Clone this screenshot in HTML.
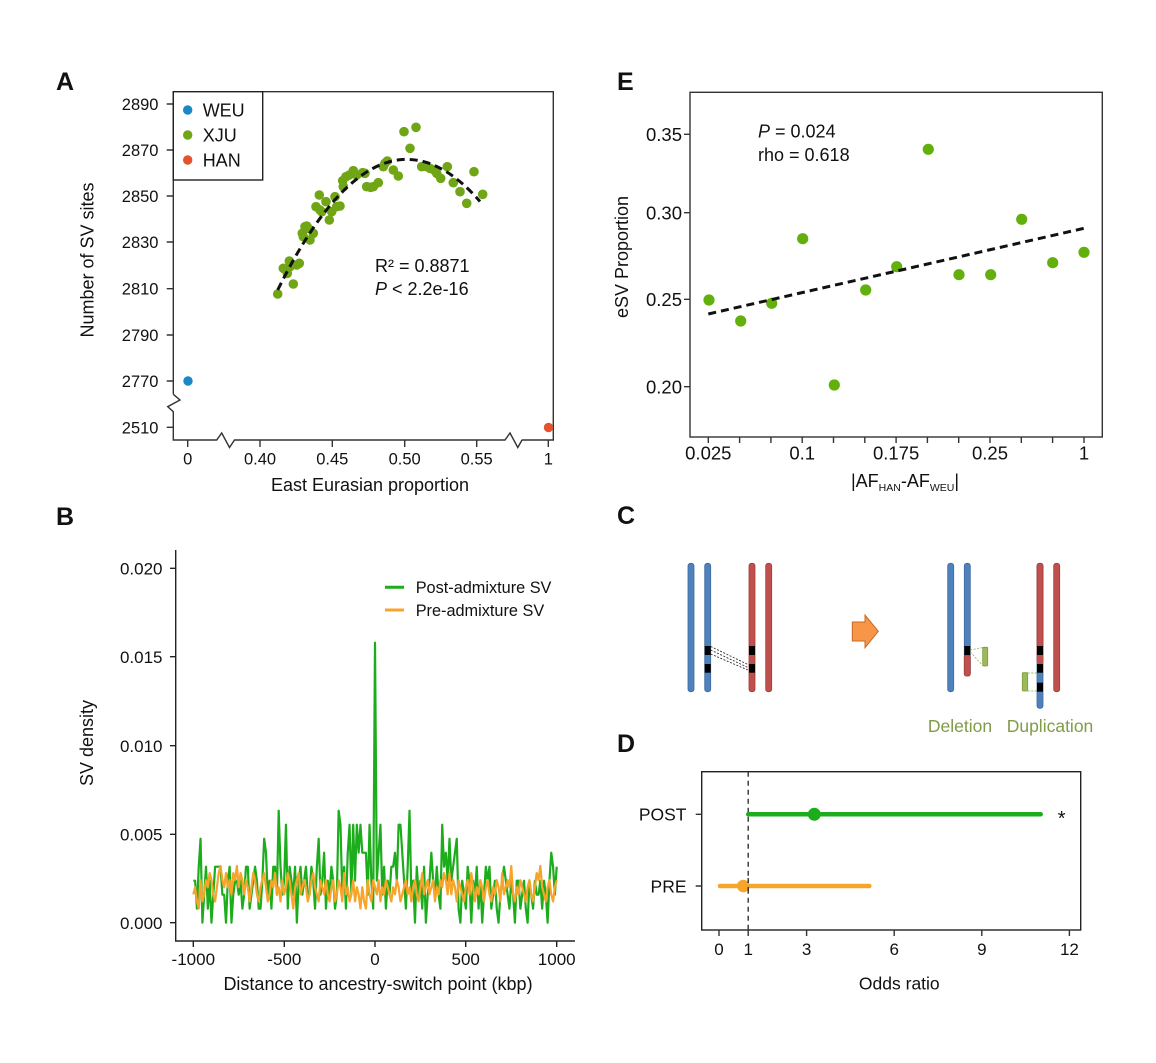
<!DOCTYPE html>
<html><head><meta charset="utf-8">
<style>
html,body{margin:0;padding:0;background:#fff;}
svg{display:block;}
text{font-family:"Liberation Sans",Arial,sans-serif;fill:#111;}
.lbl{font-weight:bold;font-size:25px;}
</style></head>
<body>
<svg width="1156" height="1063" viewBox="0 0 1156 1063" xmlns="http://www.w3.org/2000/svg">
<rect width="1156" height="1063" fill="#fff"/>

<!-- ================= PANEL A ================= -->
<text class="lbl" x="56" y="90">A</text>
<g stroke="#333" stroke-width="1.4" fill="none">
  <polyline points="173.3,394.3 173.3,91.7 553.3,91.7 553.3,440 521.7,440"/>
  <polyline points="173.3,394.3 180,400 167.7,406.7 173.3,411.7 173.3,440 216.7,440 221.7,433 229.5,447.5 234.5,440 505,440 510,433 517.8,447.5 522,440"/>
  <path d="M166.7,104H173.3M166.7,150H173.3M166.7,196H173.3M166.7,242H173.3M166.7,288.7H173.3M166.7,335H173.3M166.7,381H173.3M166.7,427.3H173.3"/>
  <path d="M187.7,440V447M260,440V447M332.3,440V447M404.7,440V447M476.7,440V447M548.3,440V447"/>
</g>
<g font-size="16.5" text-anchor="end">
  <text x="158.5" y="110">2890</text>
  <text x="158.5" y="156">2870</text>
  <text x="158.5" y="202">2850</text>
  <text x="158.5" y="248">2830</text>
  <text x="158.5" y="294.7">2810</text>
  <text x="158.5" y="341">2790</text>
  <text x="158.5" y="387">2770</text>
  <text x="158.5" y="433.3">2510</text>
</g>
<g font-size="16.5" text-anchor="middle">
  <text x="187.7" y="464.5">0</text>
  <text x="260" y="464.5">0.40</text>
  <text x="332.3" y="464.5">0.45</text>
  <text x="404.7" y="464.5">0.50</text>
  <text x="476.7" y="464.5">0.55</text>
  <text x="548.3" y="464.5">1</text>
</g>
<text x="370" y="491" font-size="18" text-anchor="middle">East Eurasian proportion</text>
<text transform="translate(93.5,260) rotate(-90)" font-size="18" text-anchor="middle">Number of SV sites</text>
<rect x="173.3" y="91.7" width="89.4" height="88.3" fill="#fff" stroke="#222" stroke-width="1.4"/>
<circle cx="187.7" cy="110" r="4.7" fill="#1b87c6"/>
<circle cx="187.7" cy="135" r="4.7" fill="#70a516"/>
<circle cx="187.7" cy="160" r="4.7" fill="#e4532d"/>
<g font-size="18">
  <text x="202.7" y="116.5">WEU</text>
  <text x="202.7" y="141.5">XJU</text>
  <text x="202.7" y="166.5">HAN</text>
</g>
<circle cx="188" cy="381" r="4.7" fill="#1b87c6"/>
<circle cx="548.5" cy="427.5" r="4.7" fill="#e4532d"/>
<g fill="#70a516">
<circle cx="277.7" cy="294" r="4.8"/><circle cx="283.3" cy="268.3" r="4.8"/><circle cx="287.3" cy="273.3" r="4.8"/>
<circle cx="289.3" cy="261" r="4.8"/><circle cx="293.3" cy="284" r="4.8"/><circle cx="296.7" cy="265" r="4.8"/>
<circle cx="299.3" cy="263.3" r="4.8"/><circle cx="290" cy="266.7" r="4.8"/><circle cx="302.3" cy="233.3" r="4.8"/>
<circle cx="305" cy="226.7" r="4.8"/><circle cx="306.7" cy="226" r="4.8"/><circle cx="308.3" cy="228.3" r="4.8"/>
<circle cx="310" cy="240" r="4.8"/><circle cx="313.3" cy="233.3" r="4.8"/><circle cx="303.3" cy="236.7" r="4.8"/>
<circle cx="316" cy="206.7" r="4.8"/><circle cx="319.3" cy="195" r="4.8"/><circle cx="321.7" cy="211.7" r="4.8"/>
<circle cx="320" cy="210" r="4.8"/><circle cx="326" cy="201.7" r="4.8"/><circle cx="329.3" cy="220" r="4.8"/>
<circle cx="331.7" cy="211.7" r="4.8"/><circle cx="335" cy="196.7" r="4.8"/><circle cx="336.7" cy="206.7" r="4.8"/>
<circle cx="340" cy="206" r="4.8"/><circle cx="342.7" cy="180.7" r="4.8"/><circle cx="343.3" cy="186.7" r="4.8"/>
<circle cx="346" cy="176.7" r="4.8"/><circle cx="349.3" cy="175" r="4.8"/><circle cx="353.3" cy="170.7" r="4.8"/>
<circle cx="356.7" cy="175" r="4.8"/><circle cx="362.7" cy="172.7" r="4.8"/><circle cx="365" cy="173.3" r="4.8"/>
<circle cx="366.7" cy="186.7" r="4.8"/><circle cx="370.7" cy="187.3" r="4.8"/><circle cx="373.3" cy="186.7" r="4.8"/>
<circle cx="378.3" cy="182.7" r="4.8"/><circle cx="383.3" cy="166.7" r="4.8"/><circle cx="385" cy="163.3" r="4.8"/>
<circle cx="387.3" cy="161" r="4.8"/><circle cx="393.3" cy="170" r="4.8"/><circle cx="398.3" cy="176" r="4.8"/>
<circle cx="404" cy="131.7" r="4.8"/><circle cx="410" cy="148.3" r="4.8"/><circle cx="416" cy="127.3" r="4.8"/>
<circle cx="421.7" cy="166.7" r="4.8"/><circle cx="426.7" cy="166.7" r="4.8"/><circle cx="430" cy="168.3" r="4.8"/>
<circle cx="434" cy="170" r="4.8"/><circle cx="436.7" cy="173.3" r="4.8"/><circle cx="440.7" cy="178.3" r="4.8"/>
<circle cx="447.3" cy="166.7" r="4.8"/><circle cx="453.3" cy="182.7" r="4.8"/><circle cx="460" cy="191.7" r="4.8"/>
<circle cx="466.7" cy="203.3" r="4.8"/><circle cx="474" cy="171.7" r="4.8"/><circle cx="482.7" cy="194.3" r="4.8"/>
</g>
<path d="M277.7,290 Q378.85,85.2 480,201.5" fill="none" stroke="#111" stroke-width="3" stroke-dasharray="8,5"/>
<text x="375" y="272" font-size="18">R² = 0.8871</text>
<text x="375" y="295" font-size="18"><tspan font-style="italic">P</tspan> &lt; 2.2e-16</text>

<!-- ================= PANEL E ================= -->
<text class="lbl" x="617" y="90">E</text>
<rect x="690" y="92.3" width="412.3" height="344.7" fill="none" stroke="#333" stroke-width="1.4"/>
<g stroke="#333" stroke-width="1.4">
  <path d="M684,134.3H690M684,212.7H690M684,299.3H690M684,386.7H690"/>
  <path d="M708.3,437V443M739.6,437V443M770.9,437V443M802.2,437V443M833.5,437V443M864.8,437V443M896.1,437V443M927.4,437V443M958.7,437V443M990,437V443M1021.3,437V443M1052.6,437V443M1084,437V443"/>
</g>
<g font-size="18.5" text-anchor="end">
  <text x="682" y="141">0.35</text>
  <text x="682" y="219.3">0.30</text>
  <text x="682" y="306">0.25</text>
  <text x="682" y="393.3">0.20</text>
</g>
<g font-size="18.5" text-anchor="middle">
  <text x="708.3" y="459.5">0.025</text>
  <text x="802.2" y="459.5">0.1</text>
  <text x="896.1" y="459.5">0.175</text>
  <text x="990" y="459.5">0.25</text>
  <text x="1084" y="459.5">1</text>
</g>
<text x="905" y="487" font-size="18" text-anchor="middle">|AF<tspan font-size="10.5" dy="4">HAN</tspan><tspan dy="-4">-AF</tspan><tspan font-size="10.5" dy="4">WEU</tspan><tspan dy="-4">|</tspan></text>
<text transform="translate(628,257) rotate(-90)" font-size="18" text-anchor="middle">eSV Proportion</text>
<g fill="#62b00c">
<circle cx="709" cy="300" r="5.6"/><circle cx="740.7" cy="321" r="5.6"/><circle cx="771.7" cy="303.3" r="5.6"/>
<circle cx="802.7" cy="238.7" r="5.6"/><circle cx="834.3" cy="385" r="5.6"/><circle cx="865.7" cy="290" r="5.6"/>
<circle cx="896.7" cy="266.7" r="5.6"/><circle cx="928.3" cy="149.3" r="5.6"/><circle cx="959" cy="274.7" r="5.6"/>
<circle cx="990.7" cy="274.7" r="5.6"/><circle cx="1021.7" cy="219.3" r="5.6"/><circle cx="1052.7" cy="262.7" r="5.6"/>
<circle cx="1084" cy="252.3" r="5.6"/>
</g>
<line x1="708.3" y1="314" x2="1084" y2="228.3" stroke="#111" stroke-width="3" stroke-dasharray="8,5"/>
<text x="758" y="137.3" font-size="18"><tspan font-style="italic">P</tspan> = 0.024</text>
<text x="758" y="161" font-size="18">rho = 0.618</text>

<!-- ================= PANEL B ================= -->
<text class="lbl" x="56" y="525">B</text>
<g stroke="#222" stroke-width="1.4" fill="none">
  <polyline points="175.7,550 175.7,941 575,941"/>
  <path d="M170,568.3H175.7M170,656.7H175.7M170,745.7H175.7M170,834.3H175.7M170,922.7H175.7"/>
  <path d="M193.3,941V947M284.3,941V947M375,941V947M465.7,941V947M556.7,941V947"/>
</g>
<g font-size="17" text-anchor="end">
  <text x="162.5" y="574.5">0.020</text>
  <text x="162.5" y="662.9">0.015</text>
  <text x="162.5" y="751.9">0.010</text>
  <text x="162.5" y="840.5">0.005</text>
  <text x="162.5" y="928.9">0.000</text>
</g>
<g font-size="17" text-anchor="middle">
  <text x="193.3" y="965">-1000</text>
  <text x="284.3" y="965">-500</text>
  <text x="375" y="965">0</text>
  <text x="465.7" y="965">500</text>
  <text x="556.7" y="965">1000</text>
</g>
<text x="378" y="990" font-size="18" text-anchor="middle">Distance to ancestry-switch point (kbp)</text>
<text transform="translate(93,743) rotate(-90)" font-size="18" text-anchor="middle">SV density</text>
<polyline transform="translate(193.3,922.7) scale(1.817,-14)" fill="none" stroke="#1cac1c" stroke-width="2.2" vector-effect="non-scaling-stroke" stroke-linejoin="round"
points="0,3 1,3 2,1 3,4 4,6 5,0 6,2 7,4 8,1 9,3 10,0 11,2 12,4 13,4 14,4 15,4 16,2 17,2 18,0 19,3 20,4 21,0 22,2 23,3 24,3 25,2 26,3 27,1 28,2 29,4 30,4 31,1 32,2 33,3 34,4 35,3 36,1 37,1 38,3 39,6 40,5 41,2 42,3 43,1 44,4 45,4 46,2 47,8 48,4 49,2 50,3 51,7 52,1 53,4 54,3 55,2 56,4 57,0 58,3 59,4 60,2 61,3 62,4 63,2 64,2 65,4 66,3 67,1 68,4 69,6 70,2 71,3 72,5 73,1 74,3 75,2 76,4 77,3 78,1 79,2 80,8 81,7 82,2 83,4 84,1 85,5 86,7 87,2 88,7 89,3 90,7 91,5 92,7 93,5 94,5 95,5 96,2 97,7 98,3 99,1 100,20 101,3 102,5 103,7 104,2 105,4 106,1 107,3 108,2 109,4 110,4 111,5 112,3 113,7 114,7 115,5 116,3 117,1 118,4 119,8 120,2 121,3 122,0 123,4 124,2 125,3 126,1 127,4 128,0 129,2 130,3 131,5 132,3 133,2 134,4 135,2 136,1 137,7 138,4 139,5 140,3 141,6 142,3 143,4 144,5 145,6 146,1 147,0 148,3 149,2 150,1 151,4 152,3 153,0 154,3 155,2 156,4 157,1 158,3 159,0 160,2 161,4 162,3 163,4 164,1 165,2 166,3 167,1 168,0 169,2 170,3 171,4 172,3 173,2 174,1 175,3 176,2 177,0 178,3 179,3 180,1 181,2 182,3 183,1 184,0 185,3 186,2 187,1 188,3 189,2 190,2 191,3 192,1 193,3 194,2 195,0 196,3 197,5 198,4 199,2 200,4"/>
<polyline transform="translate(193.3,922.7) scale(1.817,-7.09)" fill="none" stroke="#f7a42a" stroke-width="2.2" vector-effect="non-scaling-stroke" stroke-linejoin="round"
points="0,4 1,5 2,3 3,2 4,6 5,3 6,4 7,6 8,5 9,7 10,6 11,4 12,3 13,5 14,7 15,8 16,6 17,5 18,7 19,5 20,6 21,4 22,7 23,6 24,8 25,5 26,7 27,6 28,4 29,6 30,5 31,3 32,5 33,7 34,6 35,4 36,3 37,5 38,6 39,7 40,5 41,3 42,4 43,6 44,5 45,7 46,4 47,5 48,3 49,6 50,4 51,5 52,7 53,6 54,4 55,2 56,5 57,6 58,7 59,4 60,5 61,6 62,5 63,3 64,4 65,6 66,7 67,5 68,4 69,3 70,6 71,5 72,4 73,6 74,4 75,3 76,5 77,6 78,3 79,4 80,6 81,5 82,3 83,7 84,4 85,5 86,3 87,4 88,6 89,3 90,5 91,4 92,2 93,5 94,3 95,2 96,6 97,4 98,3 99,6 100,5 101,4 102,6 103,3 104,5 105,4 106,6 107,5 108,4 109,3 110,5 111,4 112,6 113,5 114,3 115,4 116,5 117,6 118,4 119,5 120,3 121,5 122,6 123,4 124,3 125,5 126,7 127,4 128,5 129,6 130,4 131,5 132,6 133,3 134,5 135,4 136,6 137,5 138,7 139,6 140,4 141,7 142,4 143,6 144,5 145,3 146,6 147,5 148,4 149,3 150,5 151,6 152,4 153,7 154,5 155,3 156,5 157,4 158,6 159,5 160,3 161,5 162,6 163,4 164,3 165,5 166,4 167,6 168,5 169,3 170,7 171,4 172,5 173,6 174,5 175,8 176,4 177,3 178,5 179,4 180,6 181,5 182,4 183,3 184,5 185,6 186,4 187,3 188,5 189,7 190,6 191,8 192,5 193,4 194,3 195,5 196,6 197,4 198,3 199,5 200,6"/>
<line x1="385" y1="587.3" x2="404" y2="587.3" stroke="#1cac1c" stroke-width="3"/>
<line x1="385" y1="610" x2="404" y2="610" stroke="#f7a42a" stroke-width="3"/>
<text x="415.7" y="593" font-size="16.3">Post-admixture SV</text>
<text x="415.7" y="616" font-size="16.3">Pre-admixture SV</text>

<!-- ================= PANEL C ================= -->
<text class="lbl" x="617" y="524">C</text>
<g stroke-width="0.8">
  <rect x="688" y="563.3" width="6" height="128.4" rx="2.5" fill="#4f81bd" stroke="#3d6aa0"/>
  <rect x="704.7" y="563.3" width="6" height="128.4" rx="2.5" fill="#4f81bd" stroke="#3d6aa0"/>
  <rect x="749" y="563.3" width="6" height="128.4" rx="2.5" fill="#c0504d" stroke="#a03c3a"/>
  <rect x="765.7" y="563.3" width="6" height="128.4" rx="2.5" fill="#c0504d" stroke="#a03c3a"/>
</g>
<g fill="#000">
  <rect x="704.7" y="646" width="6" height="9"/>
  <rect x="704.7" y="664" width="6" height="8.7"/>
  <rect x="749" y="646" width="6" height="9"/>
  <rect x="749" y="664" width="6" height="8.7"/>
</g>
<g stroke="#333" stroke-width="0.9" stroke-dasharray="2,1.5" fill="none">
  <line x1="710.7" y1="646.5" x2="749" y2="665"/>
  <line x1="710.7" y1="654" x2="749" y2="670.5"/>
  <line x1="710.7" y1="650" x2="749" y2="668"/>
</g>
<polygon points="852.3,622 865,622 865,615 878.3,631.3 865,647.7 865,641 852.3,641" fill="#f79646" stroke="#c46a28" stroke-width="1"/>
<g stroke-width="0.8">
  <rect x="947.7" y="563.3" width="6" height="128.4" rx="2.5" fill="#4f81bd" stroke="#3d6aa0"/>
  <rect x="964.3" y="563.3" width="6" height="112.7" rx="2.5" fill="#4f81bd" stroke="#3d6aa0"/>
  <rect x="964.3" y="655" width="6" height="21" rx="2" fill="#c0504d" stroke="#a03c3a"/>
  <rect x="1037" y="563.3" width="6" height="145" rx="2.5" fill="#4f81bd" stroke="#3d6aa0"/>
  <rect x="1037" y="563.3" width="6" height="100" rx="2.5" fill="#c0504d" stroke="#a03c3a"/>
  <rect x="1037" y="655" width="6" height="9" fill="#c0504d"/>
  <rect x="1053.7" y="563.3" width="6" height="128.4" rx="2.5" fill="#c0504d" stroke="#a03c3a"/>
</g>
<g fill="#000">
  <rect x="964.3" y="646" width="6" height="9"/>
  <rect x="1037" y="646" width="6" height="9"/>
  <rect x="1037" y="664" width="6" height="8.7"/>
  <rect x="1037" y="682.7" width="6" height="9"/>
</g>
<rect x="982.7" y="647.3" width="5" height="18.7" rx="1" fill="#9bbb59" stroke="#7a9a40" stroke-width="0.8"/>
<rect x="1022.3" y="672.7" width="5.4" height="18.3" rx="1" fill="#9bbb59" stroke="#7a9a40" stroke-width="0.8"/>
<g stroke="#9bbb59" stroke-width="0.9" stroke-dasharray="2,1.5" fill="none">
  <line x1="970.3" y1="650" x2="982.7" y2="647.5"/>
  <line x1="970.3" y1="652" x2="982.7" y2="665.5"/>
  <line x1="1027.7" y1="673" x2="1037" y2="673"/>
  <line x1="1027.7" y1="691" x2="1037" y2="691"/>
</g>
<text x="960" y="732" font-size="17.5" text-anchor="middle" style="fill:#7f9c48">Deletion</text>
<text x="1050" y="732" font-size="17.5" text-anchor="middle" style="fill:#7f9c48">Duplication</text>

<!-- ================= PANEL D ================= -->
<text class="lbl" x="617" y="752">D</text>
<rect x="701.7" y="771.7" width="379" height="158.3" fill="none" stroke="#222" stroke-width="1.4"/>
<g stroke="#333" stroke-width="1.4">
  <path d="M695.7,814.3H701.7M695.7,886H701.7"/>
  <path d="M719,930V936M748.2,930V936M806.6,930V936M894.2,930V936M981.8,930V936M1069.4,930V936"/>
</g>
<line x1="748.2" y1="771.7" x2="748.2" y2="930" stroke="#333" stroke-width="1.4" stroke-dasharray="5,4"/>
<g font-size="17.5" text-anchor="end">
  <text x="686.5" y="820.5">POST</text>
  <text x="686.5" y="892.3">PRE</text>
</g>
<g font-size="17" text-anchor="middle">
  <text x="719" y="955">0</text>
  <text x="748.2" y="955">1</text>
  <text x="806.6" y="955">3</text>
  <text x="894.2" y="955">6</text>
  <text x="981.8" y="955">9</text>
  <text x="1069.4" y="955">12</text>
</g>
<text x="899.3" y="989.3" font-size="17.5" text-anchor="middle">Odds ratio</text>
<line x1="748.2" y1="814.3" x2="1040.7" y2="814.3" stroke="#1cac1c" stroke-width="4.5" stroke-linecap="round"/>
<circle cx="814.3" cy="814.3" r="6.5" fill="#1cac1c"/>
<line x1="720" y1="886" x2="869.3" y2="886" stroke="#f7a42a" stroke-width="4.5" stroke-linecap="round"/>
<circle cx="743.3" cy="886" r="6.3" fill="#f7a42a"/>
<line x1="748.2" y1="878" x2="748.2" y2="894" stroke="#333" stroke-width="1.4" stroke-dasharray="5,4"/>
<text x="1061.7" y="825" font-size="20" text-anchor="middle">*</text>
</svg>
</body></html>
